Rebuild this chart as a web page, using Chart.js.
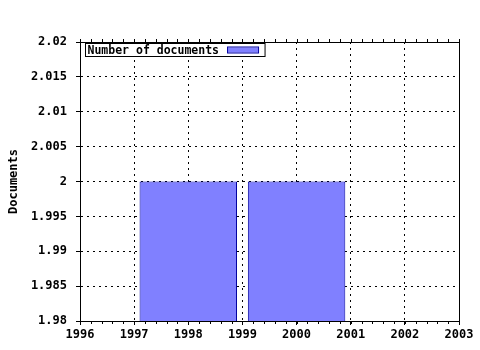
<!DOCTYPE html>
<html>
<head>
<meta charset="utf-8">
<script src="https://cdn.jsdelivr.net/npm/chart.js@4/dist/chart.umd.min.js"></script>
<style>
  html, body { margin: 0; padding: 0; background: #fff; }
  #wrap { width: 480px; height: 350px; }
</style>
</head>
<body>
<div id="wrap"><canvas id="chart" width="480" height="350"></canvas></div>
<script>
// data
const years = [1998, 2000];
const documents = [2, 2];
const seriesLabel = 'Number of documents';
const yTitle = 'Documents';
const xRange = [1996, 2003];
const yRange = [1.98, 2.02];
const yStep = 0.005;

const FONT = '"DejaVu Sans Mono", monospace';

// solid frame, minor ticks and the boxed legend inside the plot
const framePlugin = {
  id: 'frame',
  afterDraw(chart) {
    const { ctx, chartArea: a, scales } = chart;
    ctx.save();
    ctx.strokeStyle = '#000';
    ctx.lineWidth = 1;
    ctx.strokeRect(a.left + 0.5, a.top + 0.5, a.right - a.left, a.bottom - a.top);

    // minor ticks on x, every 0.2 year
    ctx.beginPath();
    for (let v = xRange[0]; v <= xRange[1] + 1e-9; v += 0.2) {
      const px = Math.round(scales.x.getPixelForValue(v)) + 0.5;
      ctx.moveTo(px, a.bottom);
      ctx.lineTo(px, a.bottom + 3);
      ctx.moveTo(px, a.top);
      ctx.lineTo(px, a.top - 3);
    }
    ctx.stroke();

    // legend box
    const ds = chart.data.datasets[0];
    ctx.font = 'bold 11.5px ' + FONT;
    const tw = ctx.measureText(ds.label).width;
    const bx = a.left + 5.5, by = a.top + 1.5;
    const bw = tw + 48, bh = 13;
    ctx.fillStyle = '#fff';
    ctx.fillRect(bx, by, bw, bh);
    ctx.strokeRect(bx, by, bw, bh);
    ctx.fillStyle = '#000';
    ctx.textBaseline = 'middle';
    ctx.fillText(ds.label, bx + 2, by + bh / 2 + 1);
    ctx.fillStyle = ds.backgroundColor;
    ctx.fillRect(bx + tw + 10, by + 4, 31, 5);
    ctx.strokeStyle = ds.borderColor;
    ctx.strokeRect(bx + tw + 10.5, by + 3.5, 31, 6);
    ctx.restore();
  }
};

new Chart(document.getElementById('chart'), {
  type: 'bar',
  data: {
    datasets: [{
      label: seriesLabel,
      data: years.map((y, i) => ({ x: y, y: documents[i] })),
      backgroundColor: '#8080ff',
      borderColor: '#0000a0',
      borderWidth: 1,
      categoryPercentage: 1,
      barPercentage: 1.8
    }]
  },
  options: {
    responsive: false,
    animation: false,
    layout: { padding: { left: 0, right: 21, top: 42, bottom: 0 } },
    plugins: {
      legend: { display: false },
      tooltip: { enabled: false }
    },
    scales: {
      x: {
        type: 'linear',
        min: xRange[0],
        max: xRange[1],
        offset: false,
        afterFit(s) { s.height = 29; },
        ticks: {
          stepSize: 1,
          color: '#000',
          padding: 3,
          maxRotation: 0,
          font: { family: FONT, size: 12, weight: 'bold' },
          callback: v => String(v)
        },
        grid: { offset: false, color: '#000', tickLength: 4, tickColor: '#000', tickBorderDash: [] },
        border: { display: true, color: '#000', dash: [2, 4] }
      },
      y: {
        min: yRange[0],
        max: yRange[1],
        afterFit(s) { s.width = 80; },
        ticks: {
          stepSize: yStep,
          color: '#000',
          padding: 9,
          font: { family: FONT, size: 12, weight: 'bold' },
          callback: v => String(parseFloat(v.toFixed(3)))
        },
        grid: { color: '#000', tickLength: 4, tickColor: '#000', tickBorderDash: [] },
        border: { display: true, color: '#000', dash: [2, 4] },
        title: {
          display: true,
          text: yTitle,
          color: '#000',
          padding: { top: 7, bottom: 4 },
          font: { family: FONT, size: 12, weight: 'bold' }
        }
      }
    }
  },
  plugins: [framePlugin]
});
</script>
</body>
</html>
